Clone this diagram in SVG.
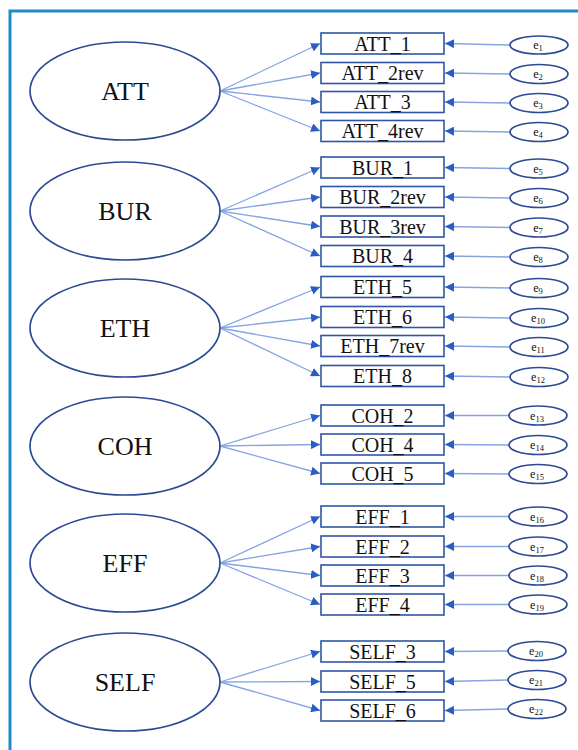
<svg xmlns="http://www.w3.org/2000/svg" width="578" height="750" viewBox="0 0 578 750">
<defs>
<marker id="ah" viewBox="0 0 10 10" refX="10" refY="5" markerWidth="9" markerHeight="9" markerUnits="userSpaceOnUse" orient="auto">
<path d="M0,0 L10,5 L0,10 z" fill="#2a5cc6"/>
</marker>
<style>
.lat{fill:#fff;stroke:#2b4b94;stroke-width:1.7}
.box{fill:#fff;stroke:#2f55a4;stroke-width:1.6}
.err{fill:#fff;stroke:#2b4b94;stroke-width:1.7}
.lt{font-family:"Liberation Serif","Times New Roman",serif;font-size:26px;fill:#111;text-anchor:middle}
.bt{font-family:"Liberation Serif","Times New Roman",serif;font-size:20px;fill:#111;text-anchor:middle}
.et{font-family:"Liberation Serif","Times New Roman",serif;font-size:12px;fill:#111;text-anchor:middle}
.sub{font-size:8.5px}
.c{stroke:#84a4e2;stroke-width:1.3;fill:none;marker-end:url(#ah)}
</style>
</defs>
<rect width="578" height="750" fill="#fff"/>
<path d="M10,750 L10,11 L578,11" fill="none" stroke="#1e8bc6" stroke-width="3"/>

<g id="connectors">
<line class="c" x1="220" y1="91" x2="320" y2="43.5"/>
<line class="c" x1="220" y1="91" x2="320" y2="73"/>
<line class="c" x1="220" y1="91" x2="320" y2="102"/>
<line class="c" x1="220" y1="91" x2="320" y2="131"/>
<line class="c" x1="220" y1="211" x2="320" y2="167.5"/>
<line class="c" x1="220" y1="211" x2="320" y2="197"/>
<line class="c" x1="220" y1="211" x2="320" y2="226.5"/>
<line class="c" x1="220" y1="211" x2="320" y2="256"/>
<line class="c" x1="220" y1="328" x2="320" y2="287"/>
<line class="c" x1="220" y1="328" x2="320" y2="317"/>
<line class="c" x1="220" y1="328" x2="320" y2="346"/>
<line class="c" x1="220" y1="328" x2="320" y2="376"/>
<line class="c" x1="220" y1="446" x2="320" y2="415.5"/>
<line class="c" x1="220" y1="446" x2="320" y2="444.5"/>
<line class="c" x1="220" y1="446" x2="320" y2="473.5"/>
<line class="c" x1="220" y1="563" x2="320" y2="516.5"/>
<line class="c" x1="220" y1="563" x2="320" y2="546.5"/>
<line class="c" x1="220" y1="563" x2="320" y2="575.5"/>
<line class="c" x1="220" y1="563" x2="320" y2="604.5"/>
<line class="c" x1="220" y1="682" x2="320" y2="651.5"/>
<line class="c" x1="220" y1="682" x2="320" y2="681.5"/>
<line class="c" x1="220" y1="682" x2="320" y2="710.5"/>
<line class="c" x1="510" y1="45" x2="445" y2="43.5"/>
<line class="c" x1="510" y1="74" x2="445" y2="73"/>
<line class="c" x1="510" y1="103" x2="445" y2="102"/>
<line class="c" x1="510" y1="132" x2="445" y2="131"/>
<line class="c" x1="510" y1="168.5" x2="445" y2="167.5"/>
<line class="c" x1="510" y1="198" x2="445" y2="197"/>
<line class="c" x1="510" y1="227.5" x2="445" y2="226.5"/>
<line class="c" x1="510" y1="257" x2="445" y2="256"/>
<line class="c" x1="510" y1="288" x2="445" y2="287"/>
<line class="c" x1="510" y1="318" x2="445" y2="317"/>
<line class="c" x1="510" y1="347" x2="445" y2="346"/>
<line class="c" x1="510" y1="377" x2="445" y2="376"/>
<line class="c" x1="509" y1="415.5" x2="445" y2="415.5"/>
<line class="c" x1="509" y1="445" x2="445" y2="444.5"/>
<line class="c" x1="509" y1="474" x2="445" y2="473.5"/>
<line class="c" x1="509" y1="516.5" x2="445" y2="516.5"/>
<line class="c" x1="509" y1="546.5" x2="445" y2="546.5"/>
<line class="c" x1="509" y1="575.5" x2="445" y2="575.5"/>
<line class="c" x1="509" y1="604.5" x2="445" y2="604.5"/>
<line class="c" x1="508" y1="651" x2="445" y2="651.5"/>
<line class="c" x1="508" y1="680" x2="445" y2="681.5"/>
<line class="c" x1="508" y1="709" x2="445" y2="710.5"/>
</g>

<g id="ATT"><ellipse class="lat" cx="125" cy="91" rx="95" ry="49"/><text class="lt" x="125" y="100">ATT</text></g>
<g id="BUR"><ellipse class="lat" cx="125" cy="211" rx="95" ry="49"/><text class="lt" x="125" y="220">BUR</text></g>
<g id="ETH"><ellipse class="lat" cx="125" cy="328" rx="95" ry="49"/><text class="lt" x="125" y="337">ETH</text></g>
<g id="COH"><ellipse class="lat" cx="125" cy="446" rx="95" ry="49"/><text class="lt" x="125" y="455">COH</text></g>
<g id="EFF"><ellipse class="lat" cx="125" cy="563" rx="95" ry="49"/><text class="lt" x="125" y="572">EFF</text></g>
<g id="SELF"><ellipse class="lat" cx="125" cy="682" rx="95" ry="49"/><text class="lt" x="125" y="691">SELF</text></g>

<g id="ATT_1"><rect class="box" x="321" y="33" width="123" height="21"/><text class="bt" x="382.5" y="50.5">ATT_1</text></g>
<g id="ATT_2rev"><rect class="box" x="321" y="62.5" width="123" height="21"/><text class="bt" x="382.5" y="80">ATT_2rev</text></g>
<g id="ATT_3"><rect class="box" x="321" y="91.5" width="123" height="21"/><text class="bt" x="382.5" y="109">ATT_3</text></g>
<g id="ATT_4rev"><rect class="box" x="321" y="120.5" width="123" height="21"/><text class="bt" x="382.5" y="138">ATT_4rev</text></g>

<g id="BUR_1"><rect class="box" x="321" y="157" width="123" height="21"/><text class="bt" x="382.5" y="174.5">BUR_1</text></g>
<g id="BUR_2rev"><rect class="box" x="321" y="186.5" width="123" height="21"/><text class="bt" x="382.5" y="204">BUR_2rev</text></g>
<g id="BUR_3rev"><rect class="box" x="321" y="216" width="123" height="21"/><text class="bt" x="382.5" y="233.5">BUR_3rev</text></g>
<g id="BUR_4"><rect class="box" x="321" y="245.5" width="123" height="21"/><text class="bt" x="382.5" y="263">BUR_4</text></g>

<g id="ETH_5"><rect class="box" x="321" y="276.5" width="123" height="21"/><text class="bt" x="382.5" y="294">ETH_5</text></g>
<g id="ETH_6"><rect class="box" x="321" y="306.5" width="123" height="21"/><text class="bt" x="382.5" y="324">ETH_6</text></g>
<g id="ETH_7rev"><rect class="box" x="321" y="335.5" width="123" height="21"/><text class="bt" x="382.5" y="353">ETH_7rev</text></g>
<g id="ETH_8"><rect class="box" x="321" y="365.5" width="123" height="21"/><text class="bt" x="382.5" y="383">ETH_8</text></g>

<g id="COH_2"><rect class="box" x="321" y="405" width="123" height="21"/><text class="bt" x="382.5" y="422.5">COH_2</text></g>
<g id="COH_4"><rect class="box" x="321" y="434" width="123" height="21"/><text class="bt" x="382.5" y="451.5">COH_4</text></g>
<g id="COH_5"><rect class="box" x="321" y="463" width="123" height="21"/><text class="bt" x="382.5" y="480.5">COH_5</text></g>

<g id="EFF_1"><rect class="box" x="321" y="506" width="123" height="21"/><text class="bt" x="382.5" y="523.5">EFF_1</text></g>
<g id="EFF_2"><rect class="box" x="321" y="536" width="123" height="21"/><text class="bt" x="382.5" y="553.5">EFF_2</text></g>
<g id="EFF_3"><rect class="box" x="321" y="565" width="123" height="21"/><text class="bt" x="382.5" y="582.5">EFF_3</text></g>
<g id="EFF_4"><rect class="box" x="321" y="594" width="123" height="21"/><text class="bt" x="382.5" y="611.5">EFF_4</text></g>

<g id="SELF_3"><rect class="box" x="321" y="641" width="123" height="21"/><text class="bt" x="382.5" y="658.5">SELF_3</text></g>
<g id="SELF_5"><rect class="box" x="321" y="671" width="123" height="21"/><text class="bt" x="382.5" y="688.5">SELF_5</text></g>
<g id="SELF_6"><rect class="box" x="321" y="700" width="123" height="21"/><text class="bt" x="382.5" y="717.5">SELF_6</text></g>

<g id="e1"><ellipse class="err" cx="539" cy="45" rx="29" ry="9"/><text class="et" x="538" y="49">e<tspan class="sub" dy="2">1</tspan></text></g>
<g id="e2"><ellipse class="err" cx="539" cy="74" rx="29" ry="9.5"/><text class="et" x="538" y="78">e<tspan class="sub" dy="2">2</tspan></text></g>
<g id="e3"><ellipse class="err" cx="539" cy="103" rx="29" ry="9.5"/><text class="et" x="538" y="107">e<tspan class="sub" dy="2">3</tspan></text></g>
<g id="e4"><ellipse class="err" cx="539" cy="132" rx="29" ry="9.5"/><text class="et" x="538" y="136">e<tspan class="sub" dy="2">4</tspan></text></g>
<g id="e5"><ellipse class="err" cx="539" cy="168.5" rx="29" ry="9.5"/><text class="et" x="538" y="172.5">e<tspan class="sub" dy="2">5</tspan></text></g>
<g id="e6"><ellipse class="err" cx="539" cy="198" rx="29" ry="9.5"/><text class="et" x="538" y="202">e<tspan class="sub" dy="2">6</tspan></text></g>
<g id="e7"><ellipse class="err" cx="539" cy="227.5" rx="29" ry="9.5"/><text class="et" x="538" y="231.5">e<tspan class="sub" dy="2">7</tspan></text></g>
<g id="e8"><ellipse class="err" cx="539" cy="257" rx="29" ry="9.5"/><text class="et" x="538" y="261">e<tspan class="sub" dy="2">8</tspan></text></g>
<g id="e9"><ellipse class="err" cx="539" cy="288" rx="29" ry="9.5"/><text class="et" x="538" y="292">e<tspan class="sub" dy="2">9</tspan></text></g>
<g id="e10"><ellipse class="err" cx="539" cy="318" rx="29" ry="9.5"/><text class="et" x="538" y="322">e<tspan class="sub" dy="2">10</tspan></text></g>
<g id="e11"><ellipse class="err" cx="539" cy="347" rx="29" ry="9.5"/><text class="et" x="538" y="351">e<tspan class="sub" dy="2">11</tspan></text></g>
<g id="e12"><ellipse class="err" cx="539" cy="377" rx="29" ry="9.5"/><text class="et" x="538" y="381">e<tspan class="sub" dy="2">12</tspan></text></g>
<g id="e13"><ellipse class="err" cx="538" cy="415.5" rx="29" ry="9.5"/><text class="et" x="537" y="419.5">e<tspan class="sub" dy="2">13</tspan></text></g>
<g id="e14"><ellipse class="err" cx="538" cy="445" rx="29" ry="9.5"/><text class="et" x="537" y="449">e<tspan class="sub" dy="2">14</tspan></text></g>
<g id="e15"><ellipse class="err" cx="538" cy="474" rx="29" ry="9.5"/><text class="et" x="537" y="478">e<tspan class="sub" dy="2">15</tspan></text></g>
<g id="e16"><ellipse class="err" cx="538" cy="516.5" rx="29" ry="9.5"/><text class="et" x="537" y="520.5">e<tspan class="sub" dy="2">16</tspan></text></g>
<g id="e17"><ellipse class="err" cx="538" cy="546.5" rx="29" ry="9.5"/><text class="et" x="537" y="550.5">e<tspan class="sub" dy="2">17</tspan></text></g>
<g id="e18"><ellipse class="err" cx="538" cy="575.5" rx="29" ry="9.5"/><text class="et" x="537" y="579.5">e<tspan class="sub" dy="2">18</tspan></text></g>
<g id="e19"><ellipse class="err" cx="538" cy="604.5" rx="29" ry="9.5"/><text class="et" x="537" y="608.5">e<tspan class="sub" dy="2">19</tspan></text></g>
<g id="e20"><ellipse class="err" cx="537" cy="651" rx="29" ry="9.5"/><text class="et" x="536" y="655">e<tspan class="sub" dy="2">20</tspan></text></g>
<g id="e21"><ellipse class="err" cx="537" cy="680" rx="29" ry="9.5"/><text class="et" x="536" y="684">e<tspan class="sub" dy="2">21</tspan></text></g>
<g id="e22"><ellipse class="err" cx="537" cy="709" rx="29" ry="9.5"/><text class="et" x="536" y="713">e<tspan class="sub" dy="2">22</tspan></text></g>
</svg>
